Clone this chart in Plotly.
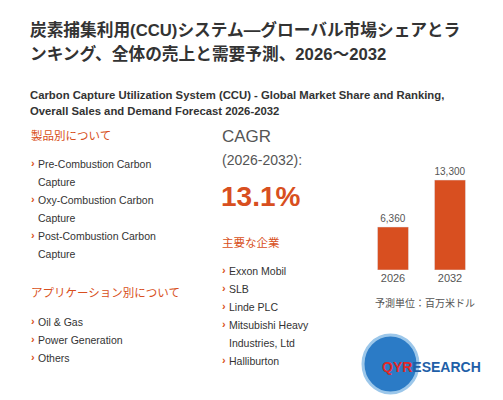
import plotly.graph_objects as go

years = ["2026", "2032"]
sales = [6360, 13300]
sales_labels = ["6,360", "13,300"]
product_types = [["Pre-Combustion Carbon", "Capture"], ["Oxy-Combustion Carbon", "Capture"], ["Post-Combustion Carbon", "Capture"]]
applications = [["Oil & Gas"], ["Power Generation"], ["Others"]]
companies = [["Exxon Mobil"], ["SLB"], ["Linde PLC"], ["Mitsubishi Heavy", "Industries, Ltd"], ["Halliburton"]]
cagr = "13.1%"

W, H = 503, 400
ORANGE = "#d84f20"
DARK = "#333333"
GRAY = "#555555"
FONT = "Liberation Sans, Arial, Noto Sans CJK JP"

fig = go.Figure()
fig.add_trace(go.Bar(
    x=years, y=sales, text=sales_labels, textposition="outside",
    textfont=dict(size=10, color=GRAY, family=FONT), marker_color=ORANGE, cliponaxis=False,
))

ann = []

def txt(x, y, s, size=11, color=DARK, bold=False, anchor="left"):
    if bold:
        s = "<b>" + s + "</b>"
    ann.append(dict(x=x / W, y=1 - y / H, xref="paper", yref="paper", text=s,
                    showarrow=False, xanchor=anchor, yanchor="middle", align="left",
                    font=dict(size=size, color=color, family=FONT)))

def bullets(x, y0, items, step=18):
    y = y0
    for lines in items:
        txt(x, y - 1, "›", 11, ORANGE, bold=True)
        for ln in lines:
            txt(x + 7, y, ln, 10.5, DARK)
            y += step

txt(20, 22, "炭素捕集利用(CCU)システム—グローバル市場シェアとラ", 16.7, DARK, True)
txt(20, 46, "ンキング、全体の売上と需要予測、2026～2032", 16.7, DARK, True)
txt(20, 87, "Carbon Capture Utilization System (CCU) - Global Market Share and Ranking,", 11.3, DARK, True)
txt(20, 103, "Overall Sales and Demand Forecast 2026-2032", 11.3, DARK, True)

txt(21, 127, "製品別について", 11.5, ORANGE)
bullets(21, 156, product_types)
txt(21, 285, "アプリケーション別について", 11.5, ORANGE)
bullets(21, 314, applications)

txt(212, 128, "CAGR", 17, GRAY)
txt(212, 152, "(2026-2032):", 14, GRAY)
txt(211, 189, cagr, 28, ORANGE, True)
txt(212, 234, "主要な企業", 11.5, ORANGE)
bullets(212, 263, companies)

txt(417, 295, "予測単位：百万米ドル", 10, GRAY, anchor="center")

# logo
fig.add_shape(type="circle", xref="paper", yref="paper",
              x0=355 / W, x1=410 / W, y0=1 - 385 / H, y1=1 - 327 / H,
              fillcolor="#2b7bc6", line=dict(color="#9cc7ea", width=3))
ann.append(dict(x=372 / W, y=1 - 359 / H, xref="paper", yref="paper",
                text="<b><span style='color:#e02828'>QYR</span><span style='color:#1f5fa8'>ESEARCH</span></b>",
                showarrow=False, xanchor="left", yanchor="middle",
                font=dict(size=14, family="Liberation Sans, Arial")))

fig.update_layout(
    width=W, height=H, margin=dict(l=0, r=0, t=0, b=0),
    paper_bgcolor="white", plot_bgcolor="white", showlegend=False,
    bargap=0.455, annotations=ann,
    xaxis=dict(domain=[356.5 / W, 470.5 / W], showgrid=False, showline=False,
               tickfont=dict(size=11, color=GRAY, family=FONT), ticks=""),
    yaxis=dict(domain=[1 - 262 / H, 1 - 160.5 / H], range=[0, 15000], visible=False),
)

fig.write_html("out.html")
